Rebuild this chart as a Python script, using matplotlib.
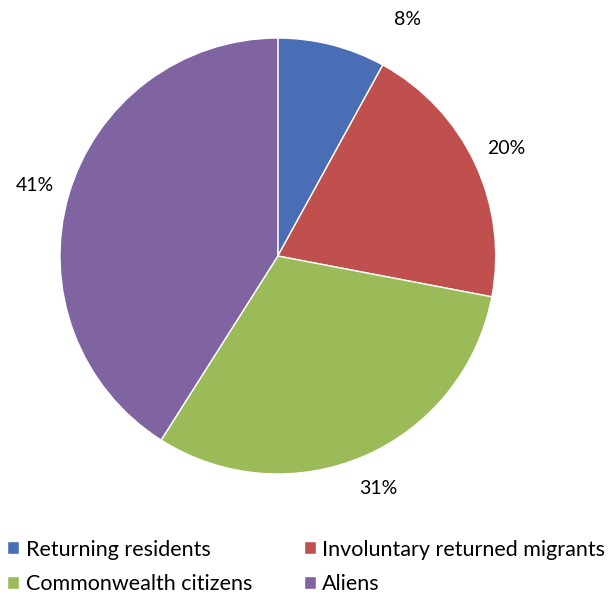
import matplotlib
matplotlib.use('Agg')
import matplotlib.pyplot as plt
import numpy as np

plt.rcParams['font.family'] = ['Lato', 'DejaVu Sans']

#---------------------DATA------------------------
categories = ['Returning residents', 'Involuntary returned migrants',
              'Commonwealth citizens', 'Aliens']
shares = [8, 20, 31, 41]
colors = ['#4A6EB5', '#C0504D', '#9BBB59', '#8064A2']

#---------------------PIE------------------------
fig = plt.figure(figsize=(6.12, 5.96), dpi=100)
ax = fig.add_axes([0.098, 0.2047, 0.712, 0.7315])

wedges, texts, autotexts = ax.pie(shares, colors=colors, startangle=90,
                                  counterclock=False, autopct='%1.0f%%',
                                  pctdistance=1.16,
                                  wedgeprops=dict(edgecolor='white', linewidth=1),
                                  textprops=dict(fontsize=14, color='black'))
ax.set_xlim(-1, 1)
ax.set_ylim(-1, 1)
ax.set_aspect('auto')

# the smallest label is pushed to the right edge of its slice, like the original
w = wedges[0]
ang = np.deg2rad(w.theta1)
autotexts[0].set_position((1.24 * np.cos(ang), 1.24 * np.sin(ang)))

#---------------------LEGEND------------------------
# legend is filled row by row in the original
order = [0, 2, 1, 3]
fig.legend([wedges[i] for i in order], [categories[i] for i in order],
           loc='lower left', bbox_to_anchor=(0.012, 0.003),
           ncol=2, frameon=False, fontsize=15.5, handlelength=0.55, handleheight=0.55,
           handletextpad=0.3, columnspacing=2.4, labelspacing=0.68,
           borderaxespad=0.0, borderpad=0.0)

fig.savefig('out.png', dpi=100)
